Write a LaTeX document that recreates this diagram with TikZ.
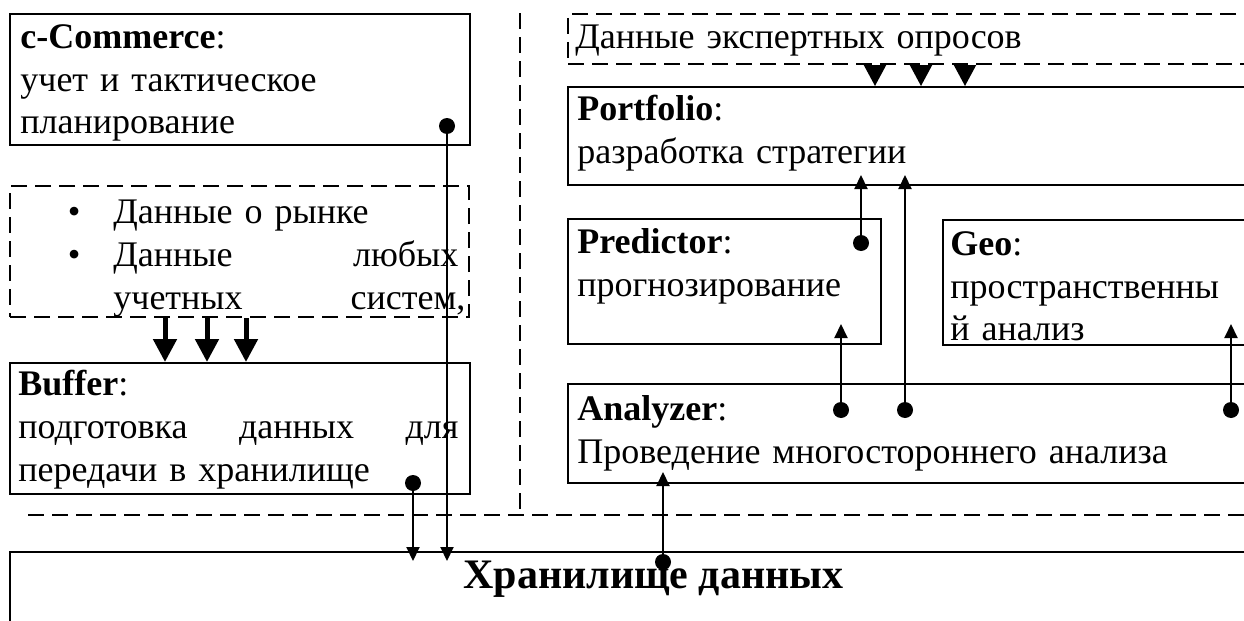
\documentclass[tikz,border=0pt]{standalone}
\usepackage{fontspec}
\setmainfont{Liberation Serif}
\usetikzlibrary{arrows.meta}
\newcommand\boxfont{\fontsize{18}{21.5}\selectfont}
\newcommand\spread[2]{\leavevmode\hbox to #1{#2}}
\tikzset{
  >={Triangle[length=7pt,width=6.5pt]},
  box/.style={draw,line width=1pt,rectangle,inner sep=0pt,anchor=north west},
  dashbox/.style={box,dash pattern=on 8pt off 4pt},
  sep/.style={line width=1pt,dash pattern=on 8pt off 4pt},
  txt/.style={anchor=base west,inner sep=0pt,align=left,text width=#1,font=\boxfont},
  txt/.default=340pt,
  dot/.style={circle,fill,inner sep=0pt,minimum size=8pt},
  link/.style={->,line width=1pt},
  feed/.style={-{Triangle[length=11.5pt,width=11.5pt]},line width=2.5pt},
  inlet/.style={-{Triangle[length=10.5pt,width=11pt]},line width=1pt},
}
\begin{document}
\begin{tikzpicture}[x=0.5pt,y=-0.5pt]
  \useasboundingbox (0,0) rectangle (1244,621);
  \clip (0,0) rectangle (1244,621);
  % separators
  \draw[sep] (520,13) -- (520,512);
  \draw[sep] (28,515) -- (1244,515);

  % left column
  \node[box,minimum width=230pt,minimum height=65.5pt] (comm) at (9,13) {};
  \node[txt] (comm-t) at (20,48) {\textbf{c-Commerce}:\\учет и тактическое\\планирование};
  \node[dashbox,minimum width=229.5pt,minimum height=65.5pt] (market) at (9,185) {};
  \node[txt=200pt] (market-t) at (113,223) {\spread{172.5pt}{\llap{\textbullet\hspace{16.5pt}}Данные о рынке\hfill}\\
    \spread{172.5pt}{\llap{\textbullet\hspace{16.5pt}}Данные\hfill любых}\\
    \spread{176pt}{учетных\hfill систем,}};
  \node[box,minimum width=230pt,minimum height=65.5pt] (buffer) at (9,362) {};
  \node[txt] (buffer-t) at (18,395) {\textbf{Buffer}:\\
    \spread{220pt}{подготовка\hfill данных\hfill для}\\передачи в хранилище};

  % right column
  \node[dashbox,minimum width=346.5pt,minimum height=25pt] (expert) at (567,13) {};
  \node[txt] (expert-t) at (575,48) {Данные экспертных опросов};
  \node[box,minimum width=346.5pt,minimum height=49pt] (portfolio) at (567,86) {};
  \node[txt] (portfolio-t) at (577,120) {\textbf{Portfolio}:\\разработка стратегии};
  \node[box,minimum width=156.5pt,minimum height=62.5pt] (predictor) at (567,218) {};
  \node[txt] (predictor-t) at (577,253) {\textbf{Predictor}:\\прогнозирование};
  \node[box,minimum width=159pt,minimum height=62.5pt] (geo) at (942,219) {};
  \node[txt] (geo-t) at (950,255) {\textbf{Geo}:\\пространственны\\й анализ};
  \node[box,minimum width=346.5pt,minimum height=49.5pt] (analyzer) at (567,383) {};
  \node[txt] (analyzer-t) at (577,420) {\textbf{Analyzer}:\\Проведение многостороннего анализа};

  % storage
  \node[box,minimum width=630pt,minimum height=50pt] (storage) at (9,551) {};
  \node[anchor=base west,inner sep=0pt,font=\fontsize{21}{25}\selectfont\bfseries] (storage-t) at (463,588) {Хранилище данных};

  % data feeds
  \foreach \x in {165,207,246}
    \draw[feed] (\x,0 |- market.south) -- (\x,0 |- buffer.north);
  \foreach \x in {875,921,965}
    \draw[inlet] (\x,0 |- expert.south) -- (\x,0 |- portfolio.north);

  % links
  \node[dot] (cdot) at (447,126) {};
  \node[dot] (bdot) at (413,483) {};
  \node[dot] (sdot) at (663,562) {};
  \node[dot] (pdot) at (861,243) {};
  \node[dot] (adot1) at (841,410) {};
  \node[dot] (adot2) at (905,410) {};
  \node[dot] (adot3) at (1231,410) {};
  \draw[link,shorten >=-5pt] (cdot) -- (cdot |- storage.north);
  \draw[link,shorten >=-5pt] (bdot) -- (bdot |- storage.north);
  \draw[link,shorten >=-6pt] (sdot) -- (sdot |- analyzer.south);
  \draw[link,shorten >=-10.5pt] (adot1) -- (adot1 |- predictor.south);
  \draw[link,shorten >=-5.5pt] (adot2) -- (adot2 |- portfolio.south);
  \draw[link,shorten >=-5.5pt] (pdot) -- (pdot |- portfolio.south);
  \draw[link,shorten >=-11pt] (adot3) -- (adot3 |- geo.south);
\end{tikzpicture}
\end{document}
